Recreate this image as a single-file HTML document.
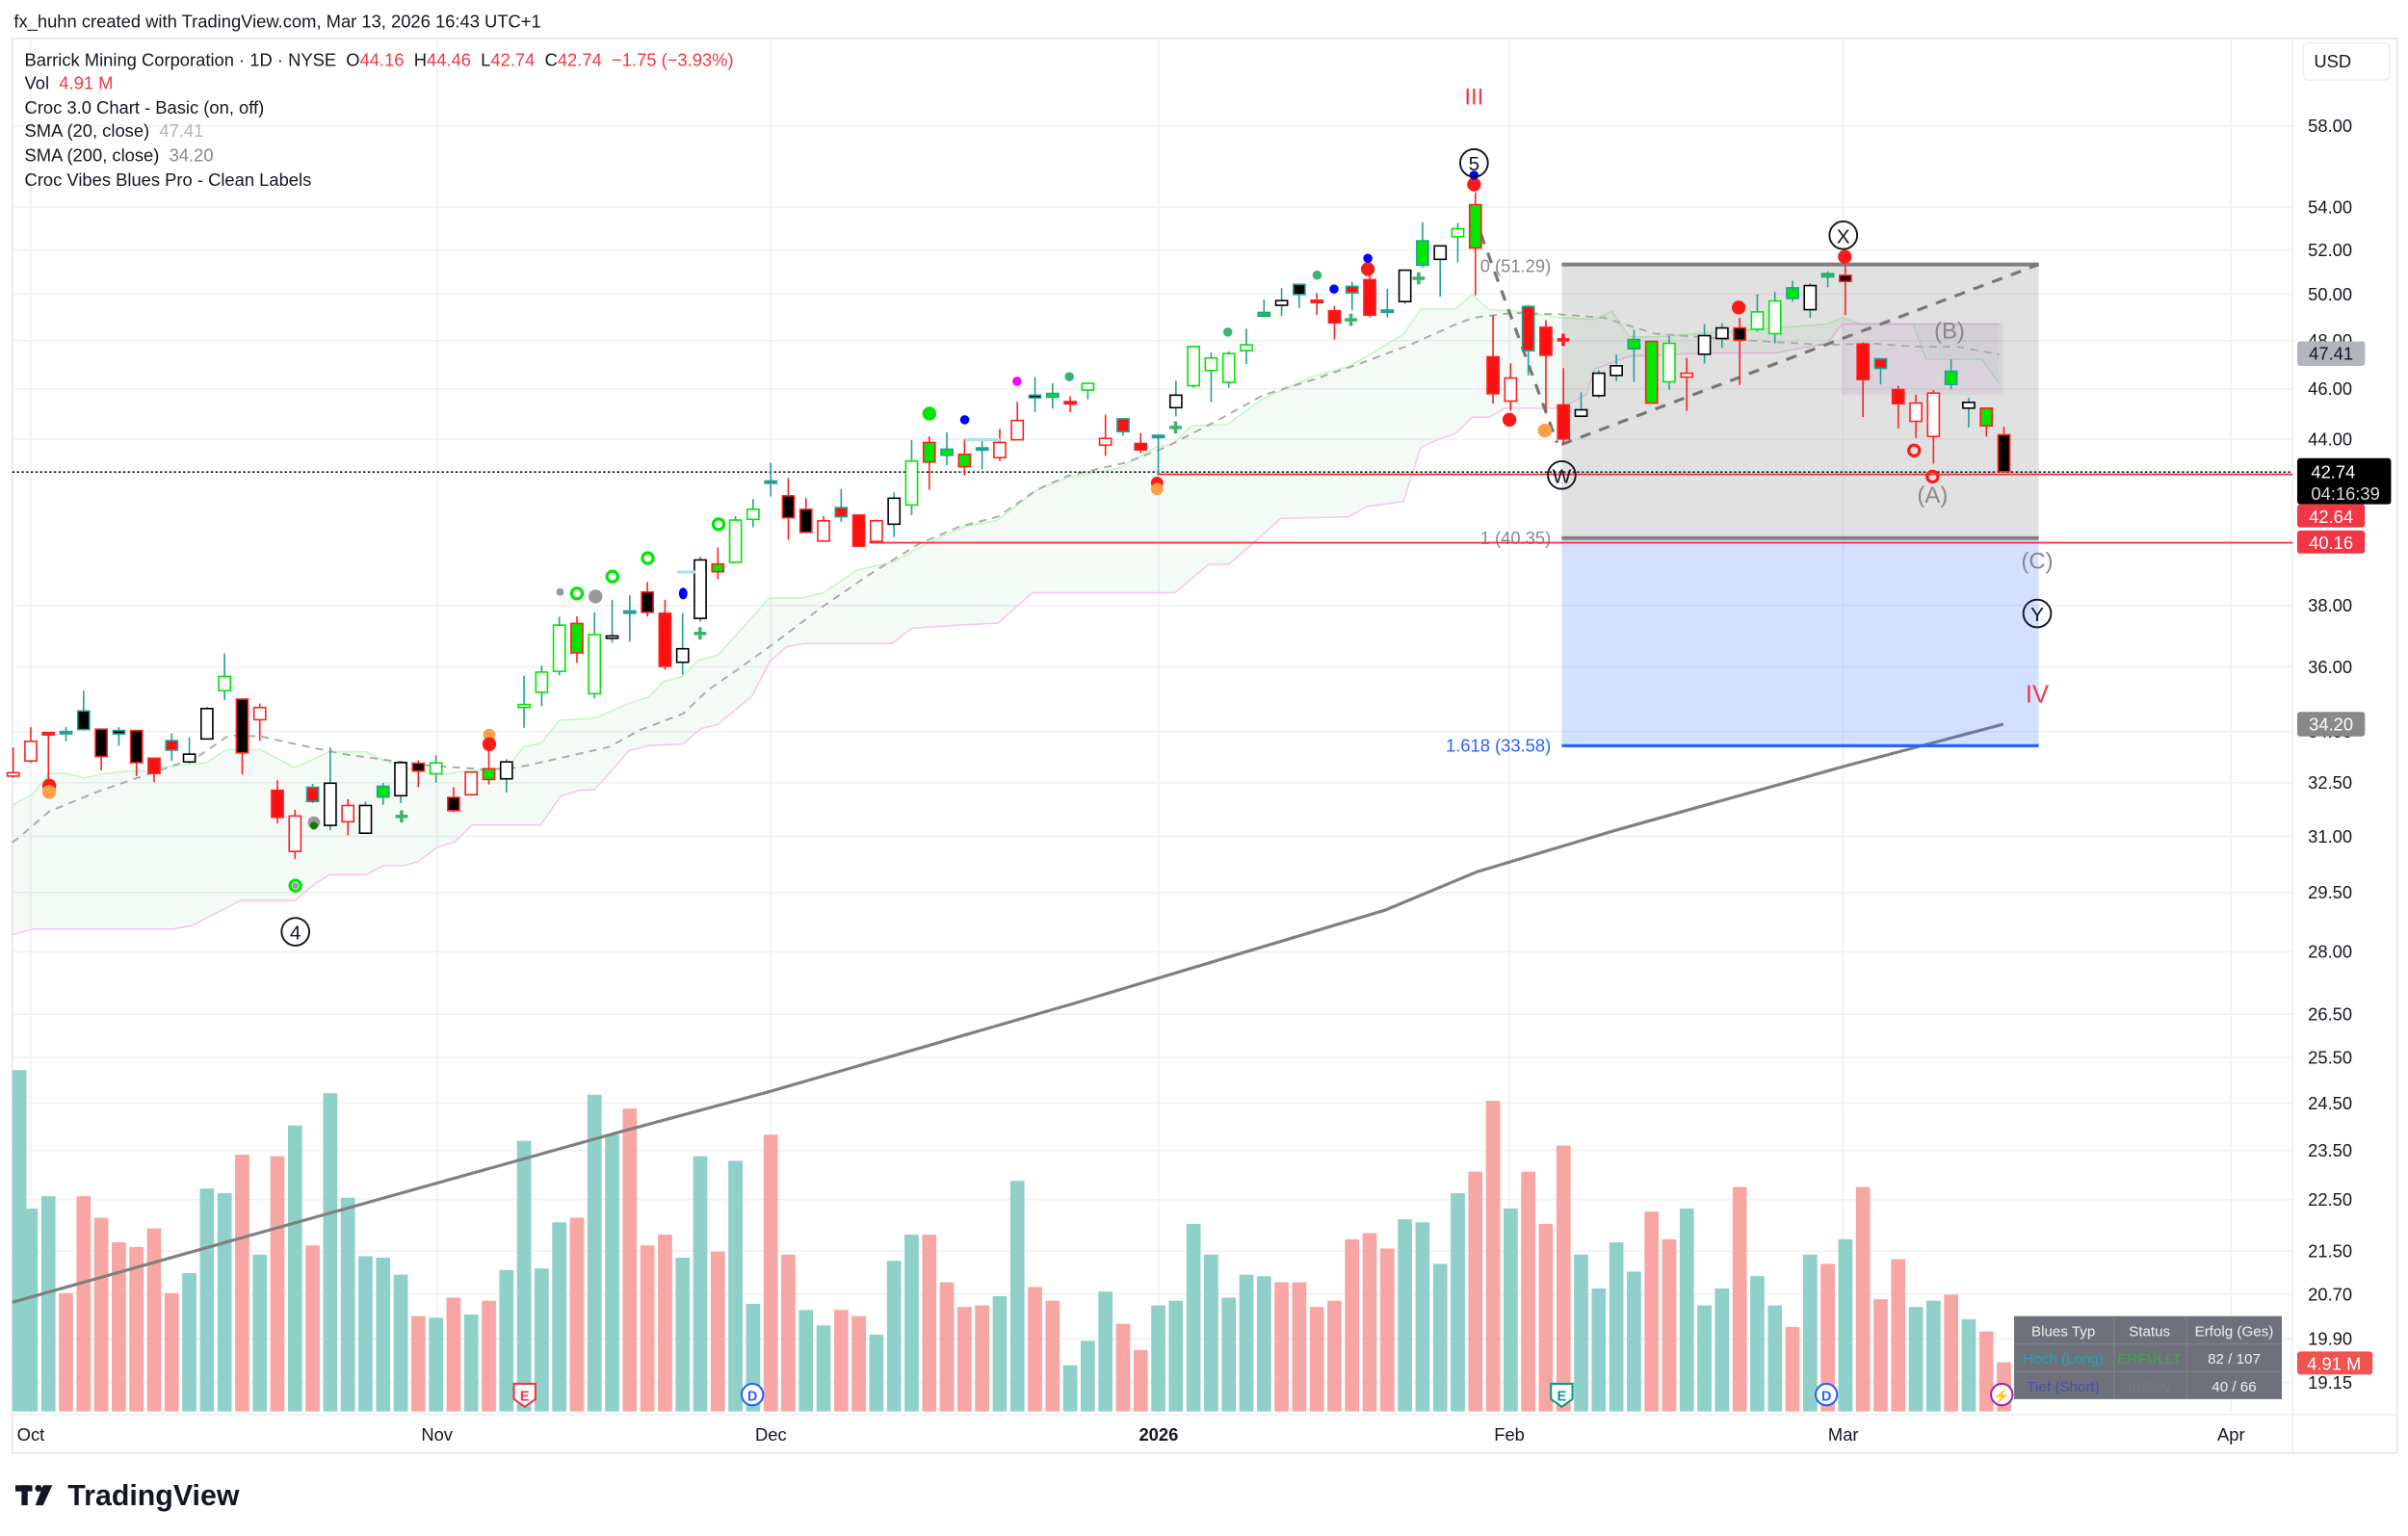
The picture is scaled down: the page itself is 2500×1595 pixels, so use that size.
<!DOCTYPE html>
<html><head><meta charset="utf-8"><style>
html,body{margin:0;padding:0;background:#fff;}
svg{display:block;}
text{font-family:"Liberation Sans",sans-serif;white-space:pre;}
</style></head><body>
<svg id="s" width="2500" height="1595" viewBox="0 0 1565 999" preserveAspectRatio="none" xmlns="http://www.w3.org/2000/svg" xml:space="preserve">
<rect x="0" y="0" width="1565" height="999" fill="#fff"/>
<text x="9" y="18" font-size="11.5" fill="#131722">fx_huhn created with TradingView.com, Mar 13, 2026 16:43 UTC+1</text>
<rect x="8" y="25" width="1550" height="920" fill="none" stroke="#e6e6e6" stroke-width="1"/>
<g id="grid" stroke="#f0f1f3" stroke-width="1"></g>
<g id="cloud"></g>
<g id="vol"></g>
<path id="sma200" fill="none" stroke="#808080" stroke-width="2"/>
<rect x="1015" y="172" width="310" height="178" fill="#787878" fill-opacity="0.22"/>
<rect x="1015" y="350" width="310" height="135" fill="#2962ff" fill-opacity="0.2"/>
<line x1="1015" y1="172" x2="1325" y2="172" stroke="#808080" stroke-width="2.5"/>
<line x1="1015" y1="350" x2="1325" y2="350" stroke="#808080" stroke-width="2.5"/>
<line x1="1015" y1="485" x2="1325" y2="485" stroke="#2962ff" stroke-width="2"/>
<text x="1008" y="177" font-size="11.5" fill="#888" text-anchor="end">0 (51.29)</text>
<text x="1008" y="354" font-size="11.5" fill="#888" text-anchor="end">1 (40.35)</text>
<text x="1008" y="489" font-size="11.5" fill="#2962ff" text-anchor="end">1.618 (33.58)</text>
<g id="sma20"></g>
<line x1="8" y1="307" x2="1490" y2="307" stroke="#131722" stroke-width="1" stroke-dasharray="1.5,1.5"/>
<line x1="752" y1="308.5" x2="1490" y2="308.5" stroke="#f23645" stroke-width="1.2"/>
<line x1="565" y1="353" x2="1490" y2="353" stroke="#f23645" stroke-width="1.2"/>
<line x1="958" y1="140" x2="1012" y2="288" stroke="#777" stroke-width="2" stroke-dasharray="7,6"/>
<line x1="1015" y1="289" x2="1325" y2="172" stroke="#777" stroke-width="2" stroke-dasharray="7,6"/>
<g id="candles"></g>
<g id="marks"></g>
<text x="958" y="68" font-size="15" fill="#f23645" text-anchor="middle">III</text>
<text x="1324" y="457" font-size="16" fill="#f23645" text-anchor="middle">IV</text>
<g fill="none" stroke="#131722" stroke-width="1.2">
<circle cx="958" cy="106" r="9"/><circle cx="1198" cy="153" r="9"/><circle cx="1015" cy="309" r="9"/><circle cx="1324" cy="399" r="9"/><circle cx="192" cy="606" r="9"/>
</g>
<g font-size="13" fill="#131722" text-anchor="middle">
<text x="958" y="111">5</text><text x="1198" y="158">X</text><text x="1015" y="314">W</text><text x="1324" y="404">Y</text><text x="192" y="611">4</text>
</g>
<g font-size="15" fill="#888" text-anchor="middle">
<text x="1256" y="327">(A)</text><text x="1267" y="220">(B)</text><text x="1324" y="370">(C)</text>
</g>
<g font-size="11.5" fill="#131722">
<text x="16" y="43">Barrick Mining Corporation · 1D · NYSE&#160;&#160;O<tspan fill="#f23645">44.16</tspan>&#160;&#160;H<tspan fill="#f23645">44.46</tspan>&#160;&#160;L<tspan fill="#f23645">42.74</tspan>&#160;&#160;C<tspan fill="#f23645">42.74</tspan>&#160;&#160;<tspan fill="#f23645">−1.75 (−3.93%)</tspan></text>
<text x="16" y="58">Vol&#160;&#160;<tspan fill="#f23645">4.91 M</tspan></text>
<text x="16" y="74">Croc 3.0 Chart - Basic (on, off)</text>
<text x="16" y="89">SMA (20, close)&#160;&#160;<tspan fill="#b2b5be">47.41</tspan></text>
<text x="16" y="105">SMA (200, close)&#160;&#160;<tspan fill="#888">34.20</tspan></text>
<text x="16" y="121">Croc Vibes Blues Pro - Clean Labels</text>
</g>
<rect x="1497" y="28" width="56" height="24" rx="3" fill="#fff" stroke="#eee"/>
<text x="1516" y="44" font-size="11.5" fill="#131722" text-anchor="middle">USD</text>
<g id="ticks" font-size="11.5" fill="#131722"></g>
<rect x="1493" y="222" width="44" height="16" rx="2" fill="#b2b5be"/><text x="1515" y="234" font-size="11.5" fill="#131722" text-anchor="middle">47.41</text>
<rect x="1493" y="298" width="61" height="30" rx="2" fill="#000"/><text x="1502" y="311" font-size="11.5" fill="#fff">42.74</text><text x="1502" y="325" font-size="11.5" fill="#ddd">04:16:39</text>
<rect x="1493" y="328" width="44" height="15" rx="2" fill="#f23645"/><text x="1515" y="340" font-size="11.5" fill="#fff" text-anchor="middle">42.64</text>
<rect x="1493" y="345" width="44" height="15" rx="2" fill="#f23645"/><text x="1515" y="357" font-size="11.5" fill="#fff" text-anchor="middle">40.16</text>
<rect x="1493" y="463" width="44" height="16" rx="2" fill="#888"/><text x="1515" y="475" font-size="11.5" fill="#fff" text-anchor="middle">34.20</text>
<rect x="1493" y="879" width="49" height="15" rx="2" fill="#f05350"/><text x="1517" y="891" font-size="11.5" fill="#fff" text-anchor="middle">4.91 M</text>
<rect x="1309" y="856" width="174" height="54" fill="#6e717b"/>
<g stroke="#7f828c" stroke-width="0.7"><line x1="1309" y1="874" x2="1483" y2="874"/><line x1="1309" y1="892" x2="1483" y2="892"/><line x1="1374" y1="856" x2="1374" y2="910"/><line x1="1421" y1="856" x2="1421" y2="910"/></g>
<g font-size="9.5" text-anchor="middle">
<text x="1341" y="869" fill="#eee">Blues Typ</text><text x="1397" y="869" fill="#eee">Status</text><text x="1452" y="869" fill="#eee">Erfolg (Ges)</text>
<text x="1341" y="887" fill="#22a7b8">Hoch (Long)</text><text x="1397" y="887" fill="#3fa845">ERFÜLLT</text><text x="1452" y="887" fill="#eee">82 / 107</text>
<text x="1341" y="905" fill="#4350b0">Tief (Short)</text><text x="1397" y="905" fill="#777a84">Inaktiv</text><text x="1452" y="905" fill="#eee">40 / 66</text>
</g>
<g stroke-width="1.3" fill="#fff">
<path d="M334,900 h14 v10 l-7,5 l-7,-5z" stroke="#f23645"/>
<circle cx="489" cy="907" r="7" stroke="#2962ff"/>
<path d="M1008,900 h14 v10 l-7,5 l-7,-5z" stroke="#089981"/>
<circle cx="1187" cy="907" r="7" stroke="#2962ff"/>
<circle cx="1301" cy="907" r="7" stroke="#9c27b0"/>
</g>
<g font-size="9" text-anchor="middle" font-weight="bold">
<text x="341" y="911" fill="#f23645">E</text><text x="489" y="911" fill="#2962ff">D</text><text x="1015" y="911" fill="#089981">E</text><text x="1187" y="911" fill="#2962ff">D</text><text x="1301" y="911" fill="#9c27b0">⚡</text>
</g>
<g font-size="11.5" fill="#131722" text-anchor="middle">
<text x="20" y="937">Oct</text><text x="284" y="937">Nov</text><text x="501" y="937">Dec</text><text x="753" y="937" font-weight="bold">2026</text><text x="981" y="937">Feb</text><text x="1198" y="937">Mar</text><text x="1450" y="937">Apr</text>
</g>
<g fill="#131722"><rect x="10" y="966" width="11" height="4"/><rect x="14" y="966" width="4" height="13"/><circle cx="25" cy="968" r="2.2"/><path d="M28,966 h6 l-6,13 h-5z"/></g>
<text x="44" y="979" font-size="19" font-weight="bold" fill="#131722">TradingView</text>
</svg>
<script>
var NS="http://www.w3.org/2000/svg";
function el(p,t,a){var e=document.createElementNS(NS,t);for(var k in a)e.setAttribute(k,a[k]);document.getElementById(p).appendChild(e);return e;}
function X(i){return 20+i*11.45;}
function Y(p){return 82+(4.0604-Math.log(p))*737.4;}
[58,54,52,50,48,46,44,38,36,34,32.5,31,29.5,28,26.5,25.5,24.5,23.5,22.5,21.5,20.7,19.9,19.15].forEach(function(p){var y=Y(p);el('grid','line',{x1:8,y1:y,x2:1490,y2:y});var t=el('ticks','text',{x:1500,y:y+4});t.textContent=p.toFixed(2);});
[20,284,501,753,981,1198,1450].forEach(function(x){el('grid','line',{x1:x,y1:25,x2:x,y2:920});});
el('grid','line',{x1:1490,y1:25,x2:1490,y2:945,stroke:'#eee'});
el('grid','line',{x1:8,y1:920,x2:1558,y2:920,stroke:'#eee'});
function cA(p){return [p[0]/3.13,281.8+p[1]/4.552];}
function cB(p){return [469.6+p[0]/3.13,125.2+p[1]/4.552];}
function cC(p){return [907.9+p[0]/3.577,93.9+p[1]/4.791];}
function pts(arr,f){return arr.map(function(p){return f(p);});}
var upA=[[30,1100],[65,1070],[100,1007],[135,1007],[172,1020],[210,1008],[260,1000],[300,1000],[350,985],[420,975],[460,937],[530,937],[600,990],[670,943],[745,943],[780,968],[850,1000],[900,1010],[950,1000],[1030,995],[1065,928],[1100,918],[1138,850],[1210,843],[1280,800],[1320,780],[1350,735],[1390,720],[1420,672],[1460,657],[1530,545]];
var upB=[[95,1200],[165,1200],[205,1185],[275,1117],[345,1095],[415,1040],[490,990],[560,970],[640,880],[700,845],[810,815],[880,755],[915,745],[955,690],[1025,688],[1100,610],[1200,545],[1275,515],[1385,420],[1420,345],[1490,345]];
var upC=[[175,468],[215,515],[270,518],[380,540],[460,545],[500,520],[540,600],[600,600],[700,590],[900,570],[1000,560],[1035,540],[1080,560],[1200,560],[1230,670],[1360,670],[1400,745]];
var loA=[[30,1485],[65,1468],[350,1468],[390,1458],[490,1383],[600,1383],[640,1335],[670,1307],[745,1307],[780,1280],[820,1280],[850,1268],[890,1225],[925,1210],[960,1160],[1100,1160],[1140,1075],[1175,1058],[1210,1055],[1280,940],[1320,925],[1390,920],[1425,875],[1460,862],[1530,778]];
var loB=[[95,1390],[130,1345],[165,1335],[345,1335],[385,1290],[490,1280],[560,1275],[630,1185],[920,1185],[990,1100],[1030,1100],[1070,1050],[1135,965],[1275,960],[1310,930],[1385,915],[1420,755],[1460,728],[1490,715]];
var loC=[[175,850],[215,850],[250,822],[380,822],[440,780],[460,700],[540,660],[700,650],[880,650],[1000,620],[1035,560],[1400,560]];
var up=pts(upA,cA).concat(pts(upB,cB),pts(upC,cC));
var lo=pts(loA,cA).concat(pts(loB,cB),pts(loC,cC));
up[0][0]=8;lo[0][0]=8;
var poly=up.concat(lo.slice().reverse());
el('cloud','path',{d:'M'+poly.map(function(p){return p[0].toFixed(1)+','+p[1].toFixed(1);}).join('L')+'Z',fill:'#4caf50','fill-opacity':0.06,stroke:'none'});
el('cloud','path',{d:'M'+up.map(function(p){return p[0].toFixed(1)+','+p[1].toFixed(1);}).join('L'),fill:'none',stroke:'#c8f5c8','stroke-width':1});
el('cloud','path',{d:'M'+lo.map(function(p){return p[0].toFixed(1)+','+p[1].toFixed(1);}).join('L'),fill:'none',stroke:'#f5c8f0','stroke-width':1});
el('cloud','rect',{x:1197,y:210,width:105,height:47,fill:'#9c27b0','fill-opacity':0.08});
var sA=[[40,1195],[100,1120],[200,1060],[300,1010],[400,960],[465,895],[530,897],[600,920],[700,950],[800,970],[880,985],[990,995],[1050,990],[1150,958],[1240,928],[1300,880],[1390,830],[1440,760],[1500,700]];
var sB=[[100,1340],[200,1230],[300,1130],[400,1040],[480,990],[560,960],[640,880],[700,840],[820,800],[900,755],[1000,680],[1100,600],[1200,555],[1300,505],[1400,450],[1500,385]];
var sC=[[180,540],[270,525],[380,530],[480,540],[600,590],[800,610],[1000,625],[1100,620],[1200,630],[1300,630],[1400,655]];
var sm=pts(sA,cA).concat(pts(sB,cB),pts(sC,cC));sm.unshift([8,548]);
el('sma20','path',{d:'M'+sm.map(function(p){return p[0].toFixed(1)+','+p[1].toFixed(1);}).join('L'),fill:'none',stroke:'#aaa','stroke-width':1.2,'stroke-dasharray':'5,4'});
var s2=[[8,847],[200,793],[400,737],[500,710],[600,681],[700,652],[800,622],[900,592],[960,567],[1050,540],[1100,526],[1200,498],[1302,471]];
document.getElementById('sma200').setAttribute('d','M'+s2.map(function(p){return p.join(',');}).join('L'));
var vol=[[-1,'t',696],[0,'t',786],[1,'t',778],[2,'r',841],[3,'r',778],[4,'r',792],[5,'r',808],[6,'r',811],[7,'r',799],[8,'r',841],[9,'t',828],[10,'t',773],[11,'t',776],[12,'r',751],[13,'t',816],[14,'r',752],[15,'t',732],[16,'r',810],[17,'t',711],[18,'t',779],[19,'t',817],[20,'t',818],[21,'t',829],[22,'r',856],[23,'t',857],[24,'r',844],[25,'t',855],[26,'r',846],[27,'t',826],[28,'t',742],[29,'t',825],[30,'t',795],[31,'r',792],[32,'t',712],[33,'t',738],[34,'r',721],[35,'r',810],[36,'r',803],[37,'t',818],[38,'t',752],[39,'r',814],[40,'t',755],[41,'t',848],[42,'r',738],[43,'r',816],[44,'t',852],[45,'t',862],[46,'r',852],[47,'r',856],[48,'t',868],[49,'t',820],[50,'t',803],[51,'r',803],[52,'r',834],[53,'r',850],[54,'r',849],[55,'t',843],[56,'t',768],[57,'r',837],[58,'r',846],[59,'t',888],[60,'t',872],[61,'t',840],[62,'r',861],[63,'r',878],[64,'t',849],[65,'t',846],[66,'t',796],[67,'t',816],[68,'t',844],[69,'t',829],[70,'t',830],[71,'r',834],[72,'r',834],[73,'r',850],[74,'r',846],[75,'r',806],[76,'r',802],[77,'r',812],[78,'t',793],[79,'t',795],[80,'t',822],[81,'t',776],[82,'r',762],[83,'r',716],[84,'t',786],[85,'r',762],[86,'r',796],[87,'r',745],[88,'t',816],[89,'t',838],[90,'t',808],[91,'t',827],[92,'r',788],[93,'r',806],[94,'t',786],[95,'t',849],[96,'t',838],[97,'r',772],[98,'t',830],[99,'t',849],[100,'r',863],[101,'t',816],[102,'r',822],[103,'t',806],[104,'r',772],[105,'r',845],[106,'r',819],[107,'t',850],[108,'t',846],[109,'r',842],[110,'t',858],[111,'r',866],[112,'r',886]];
vol.forEach(function(v){var x=X(v[0]);el('vol','rect',{x:Math.max(8,x-4.6),y:v[2],width:9.2,height:918-v[2],fill:v[1]=='t'?'#8fd0c8':'#f7a6a4'});});
var F={W:'#fff',R:'#ff1010',G:'#00e600',K:'#000',T:'#22a094'};
var S={R:'#ff2020',G:'#00e600',K:'#000',T:'#22a094'};
var WK={R:'#ff2020',G:'#22a094',K:'#22a094',T:'#22a094'};
var A=[[-1,1005,1015,930,1020,'W','R'],[0,912,970,870,975,'W','R'],[1,886,889,887,1050,'R','R'],[2,883,886,870,912,'T','T'],[3,822,877,762,880,'K','T'],[4,876,957,876,998,'K','R'],[5,880,890,870,925,'K','T'],[6,880,975,880,1015,'K','R'],[7,962,1007,962,1033,'R','R'],[8,910,938,888,970,'R','T'],[9,950,973,900,978,'W','K'],[10,815,905,810,905,'W','K'],[11,720,762,652,790,'W','G'],[12,787,946,787,1010,'K','R'],[13,812,848,800,910,'W','R'],[14,1057,1137,1027,1155,'R','R'],[15,1133,1238,1115,1260,'W','R'],[16,1048,1090,1038,1095,'R','T'],[17,1036,1161,930,1175,'W','K'],[18,1102,1150,1083,1190,'W','R'],[19,1102,1184,1090,1184,'W','K'],[20,1045,1077,1035,1100,'G','T'],[21,975,1073,970,1095,'W','K'],[22,977,1000,968,1048,'K','R'],[23,976,1008,953,1035,'W','G'],[24,1078,1117,1048,1122,'K','R'],[25,1003,1070,1003,1070,'W','R'],[26,993,1025,890,1040,'G','R'],[27,973,1023,965,1063,'W','K'],[28,803,812,718,872,'W','G'],[29,707,767,688,808,'W','G'],[30,568,705,543,717,'W','G'],[31,563,650,542,680,'G','R'],[32,596,771,530,785,'W','G'],[33,600,607,493,620,'W','K'],[34,526,528,480,617,'T','T'],[35,470,530,440,543,'K','R'],[36,533,690,493,700,'R','R'],[37,638,678,533,715,'W','K'],[38,375,548,365,558,'W','K'],[39,387,410,338,432,'G','R'],[40,257,382,245,385,'W','G'],[41,225,255,195,278,'W','G']];
var B=[[42,854,856,800,900,'T','T'],[43,898,963,845,1028,'K','R'],[44,938,1006,905,1006,'K','R'],[45,972,1032,958,1032,'W','R'],[46,933,960,878,975,'R','T'],[47,955,1047,955,1047,'R','R'],[48,972,1033,968,1033,'W','R'],[49,905,982,888,1020,'W','K'],[50,795,925,733,955,'W','G'],[51,740,798,722,880,'G','R'],[52,760,778,710,808,'G','T'],[53,775,812,730,838,'G','R'],[54,756,758,727,820,'T','T'],[55,740,785,700,795,'W','R'],[56,675,732,620,732,'W','R'],[57,600,608,547,650,'K','T'],[58,595,606,565,640,'G','T'],[59,619,621,603,650,'R','R'],[60,565,585,565,612,'W','G'],[61,728,748,658,780,'W','R'],[62,670,708,668,720,'R','T'],[63,743,762,712,772,'R','R'],[64,719,721,715,835,'T','T'],[65,600,637,557,663,'W','K'],[66,456,572,456,578,'W','G'],[67,490,527,473,620,'W','G'],[68,477,562,470,578,'W','G'],[69,451,468,403,508,'W','G'],[70,355,366,317,370,'G','T'],[71,320,334,283,365,'W','K'],[72,272,302,270,342,'K','T'],[73,319,321,298,362,'R','R'],[74,350,386,336,435,'R','R'],[75,278,297,265,348,'R','T'],[76,258,363,200,370,'R','R'],[77,348,350,285,370,'T','T'],[78,230,323,230,330,'W','K'],[79,143,215,88,222,'G','T'],[80,158,198,158,308,'W','K'],[81,107,131,90,207,'W','G']];
var C=[[82,188,323,150,470,'G','R'],[83,662,777,532,808,'R','R'],[84,728,800,682,830,'W','R'],[85,505,643,500,720,'R','T'],[86,570,657,548,830,'R','R'],[87,812,918,697,935,'R','R'],[88,827,847,773,847,'W','K'],[89,713,783,703,790,'W','K'],[90,690,720,655,738,'W','K'],[91,608,637,578,740,'G','T'],[92,614,806,614,806,'G','R'],[93,620,740,597,765,'W','G'],[94,713,725,665,830,'W','R'],[95,596,654,560,683,'W','K'],[96,572,605,557,635,'W','K'],[97,572,610,540,750,'K','R'],[98,522,576,467,583,'W','G'],[99,488,590,460,620,'W','G'],[100,447,480,425,490,'G','T'],[101,440,515,433,540,'W','K'],[102,403,413,395,445,'G','T'],[103,408,427,375,532,'K','R'],[104,622,733,617,850,'R','R'],[105,668,698,668,748,'R','T'],[106,764,808,752,885,'R','R'],[107,806,863,780,915,'W','R'],[108,775,910,765,995,'W','R'],[109,707,748,670,763,'G','T'],[110,804,822,790,882,'W','K'],[111,822,877,822,910,'G','R'],[112,905,1020,880,1020,'K','R']];
function draw(arr,f){arr.forEach(function(c){var x=X(c[0]);var bt=f([0,c[1]])[1],bb=f([0,c[2]])[1],wt=f([0,c[3]])[1],wb=f([0,c[4]])[1];
el('candles','line',{x1:x,y1:wt,x2:x,y2:wb,stroke:WK[c[6]],'stroke-width':1});
var h=Math.max(bb-bt,1.5);
el('candles','rect',{x:x-3.8,y:bt,width:7.6,height:h,fill:F[c[5]],stroke:S[c[6]],'stroke-width':1});});}
draw(A,cA);draw(B,cB);draw(C,cC);
function dot(x,y,r,c){el('marks','circle',{cx:x,cy:y,r:r,fill:c});}
function ring(x,y,r,c){el('marks','circle',{cx:x,cy:y,r:r,fill:'none',stroke:c,'stroke-width':2});}
function plus(x,y,c){el('marks','path',{d:'M'+(x-4)+','+y+'h8M'+x+','+(y-4)+'v8',stroke:c,'stroke-width':2.2});}
dot(32,511,4.5,'#ff1a1a');dot(32,515,4.5,'#ff9f43');
ring(192,576,3.5,'#00e600');dot(192,576,2,'#999');
dot(204,535,4,'#999');dot(204,537,2.5,'#0a7a0a');plus(261,531,'#3cb371');
dot(318,478,4,'#ff9f43');dot(318,484,4.5,'#ff1a1a');
dot(364,385,2.5,'#999');ring(375,386,3.5,'#00e600');dot(387,388,4.5,'#999');ring(398,375,3.5,'#00e600');ring(421,363,3.5,'#00e600');
el('marks','ellipse',{cx:444,cy:386,rx:2.8,ry:3.8,fill:'#0000ff'});plus(455,412,'#3cb371');ring(467,341,3.5,'#00e600');
dot(604,269,4.5,'#00e600');dot(627,273,3,'#0000ff');dot(661,248,3,'#ff00ff');dot(695,245,3,'#3cb371');
dot(752,314,4,'#ff1a1a');dot(752,318,4,'#ff9f43');plus(764,278,'#3cb371');dot(798,216,3,'#3cb371');dot(856,179,3,'#3cb371');
dot(867,188,3,'#0000ff');dot(889,175,4.5,'#ff1a1a');dot(889,168,3,'#0000ff');plus(878,208,'#3cb371');plus(922,181,'#3cb371');
dot(958,120,4.5,'#ff1a1a');dot(958,114,3,'#0000ff');dot(981,273,4.5,'#ff1a1a');dot(1004,280,4.5,'#ff9f43');plus(1016,221,'#ff1a1a');
dot(1130,200,4.5,'#ff1a1a');dot(1199,167,4.5,'#ff1a1a');ring(1244,293,3.5,'#ff1a1a');ring(1256,310,3.5,'#ff1a1a');
el('marks','line',{x1:627,y1:286,x2:650,y2:286,stroke:'#b0e0f0','stroke-width':2});
el('marks','line',{x1:440,y1:372,x2:452,y2:372,stroke:'#b0e0f0','stroke-width':2});
</script>
</body></html>
